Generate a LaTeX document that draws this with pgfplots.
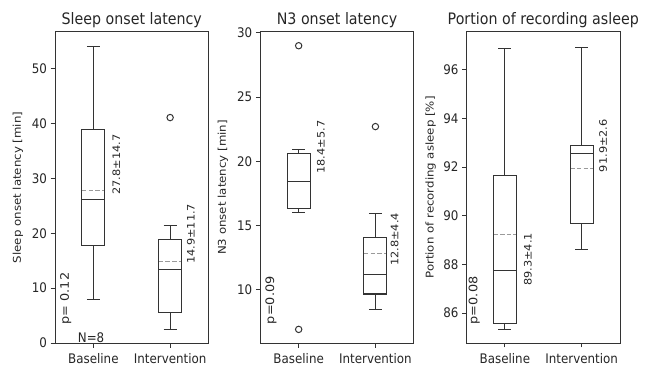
\documentclass[border=0pt]{standalone}
\usepackage{pgfplots}
\pgfplotsset{compat=1.18}
\usepgfplotslibrary{statistics}
\usepackage{fontspec}
\setmainfont{DejaVu Sans}[FakeStretch=0.9]
\newfontfamily\rotfont{DejaVu Sans}[FakeStretch=1.1]
\definecolor{ln}{HTML}{333333}
\definecolor{mn}{HTML}{9A9A9A}
\newcommand{\fs}{\fontsize{13.2bp}{15bp}\selectfont}
\newcommand{\fl}{\rotfont\fontsize{10.7bp}{13bp}\selectfont}
\newcommand{\fa}{\rotfont\fontsize{10.3bp}{12bp}\selectfont}
\newcommand{\fp}{\rotfont\fontsize{11.7bp}{13bp}\selectfont}
\pgfplotsset{
  myax/.style={
    scale only axis, width=153.5bp, height=311bp, anchor=south west,
    xmin=0.5, xmax=2.5, xtick={1,2}, xticklabels={Baseline,Intervention},
    axis line style={ln, line width=1bp},
    every tick/.style={ln, line width=1bp}, tick align=outside, major tick length=4.5bp,
    xtick pos=bottom, ytick pos=left,
    /pgf/number format/assume math mode=true,
    tick label style={font=\fs, text=black!85},
    xticklabel style={yshift=-2bp},
    ylabel style={font=\fl, text=black!85, anchor=center},
    title style={font=\fontsize{15.8bp}{18bp}\selectfont, text=black!85, at={(axis description cs:0.5,1)}, anchor=base, yshift=2bp},
    boxplot/draw direction=y,
    boxplot/box extend=0.3, boxplot/whisker extend=0.17,
    clip=false,
  },
  bx/.style={solid, ln, line width=1.1bp, mark=o, mark size=3.2bp, mark options={ln, line width=1bp, solid}},
  mline/.style={mn, line width=1.1bp, dash pattern=on 4.5bp off 2.2bp},
}
\tikzset{ann/.style={font=\fa, text=black!85, rotate=90, anchor=center},
  pv/.style={font=\fp, text=black!85, rotate=90, anchor=center}}
\begin{document}
\begin{tikzpicture}
\useasboundingbox (0,0) rectangle (647bp,369bp);
% Panel 1
\begin{axis}[myax, at={(55bp,26bp)}, ymin=0, ymax=56.7, ytick={0,10,20,30,40,50},
  title={Sleep onset latency}, ylabel={Sleep onset latency [min]},
  ylabel style={at={(axis description cs:-0.241,0.5)}}]
\addplot[mline] coordinates {(0.85,27.8) (1.15,27.8)};
\addplot[mline] coordinates {(1.85,14.9) (2.15,14.9)};
\addplot[bx, boxplot prepared={draw direction=y, draw position=1, lower whisker=8.0, lower quartile=17.7, median=26.1, upper quartile=38.9, upper whisker=54.0}] coordinates {};
\addplot[bx, boxplot prepared={draw direction=y, draw position=2, lower whisker=2.4, lower quartile=5.6, median=13.4, upper quartile=18.9, upper whisker=21.4}] table[row sep=\\, y index=0] {41.1\\};
\node[ann] at (axis cs:1.3,32.5) {27.8±14.7};
\node[ann] at (axis cs:2.27,19.9) {14.9±11.7};
\node[pv] at (axis cs:0.64,8.1) {p= 0.12};
\node[font=\fs, text=black!85, anchor=base] at (axis cs:0.97,0.15) {N=8};
\end{axis}
% Panel 2
\begin{axis}[myax, at={(260.3bp,26bp)}, ymin=5.84, ymax=30.07, ytick={10,15,20,25,30},
  title={N3 onset latency}, ylabel={N3 onset latency [min]},
  ylabel style={at={(axis description cs:-0.244,0.5)}}]
\addplot[mline] coordinates {(0.85,18.4) (1.15,18.4)};
\addplot[mline] coordinates {(1.85,12.8) (2.15,12.8)};
\addplot[bx, boxplot prepared={draw direction=y, draw position=1, lower whisker=16.0, lower quartile=16.3, median=18.44, upper quartile=20.6, upper whisker=20.9}] table[row sep=\\, y index=0] {29.0\\ 6.9\\};
\addplot[bx, boxplot prepared={draw direction=y, draw position=2, lower whisker=8.44, lower quartile=9.66, median=11.2, upper quartile=14.05, upper whisker=15.9}] table[row sep=\\, y index=0] {22.7\\};
\node[ann] at (axis cs:1.29,21.1) {18.4±5.7};
\node[ann] at (axis cs:2.25,13.9) {12.8±4.4};
\node[pv] at (axis cs:0.64,9.17) {p=0.09};
\end{axis}
% Panel 3
\begin{axis}[myax, at={(466.5bp,26bp)}, ymin=84.77, ymax=97.55, ytick={86,88,90,92,94,96},
  title={Portion of recording asleep}, ylabel={Portion of recording asleep [\%]},
  ylabel style={at={(axis description cs:-0.233,0.5)}}]
\addplot[mline] coordinates {(0.85,89.22) (1.15,89.22)};
\addplot[mline] coordinates {(1.85,91.93) (2.15,91.93)};
\addplot[bx, boxplot prepared={draw direction=y, draw position=1, lower whisker=85.32, lower quartile=85.56, median=87.74, upper quartile=91.64, upper whisker=96.89}] coordinates {};
\addplot[bx, boxplot prepared={draw direction=y, draw position=2, lower whisker=88.6, lower quartile=89.67, median=92.55, upper quartile=92.88, upper whisker=96.9}] coordinates {};
\node[ann] at (axis cs:1.3,88.2) {89.3±4.1};
\node[ann] at (axis cs:2.28,92.88) {91.9±2.6};
\node[pv] at (axis cs:0.6,86.52) {p=0.08};
\end{axis}
\end{tikzpicture}
\end{document}
